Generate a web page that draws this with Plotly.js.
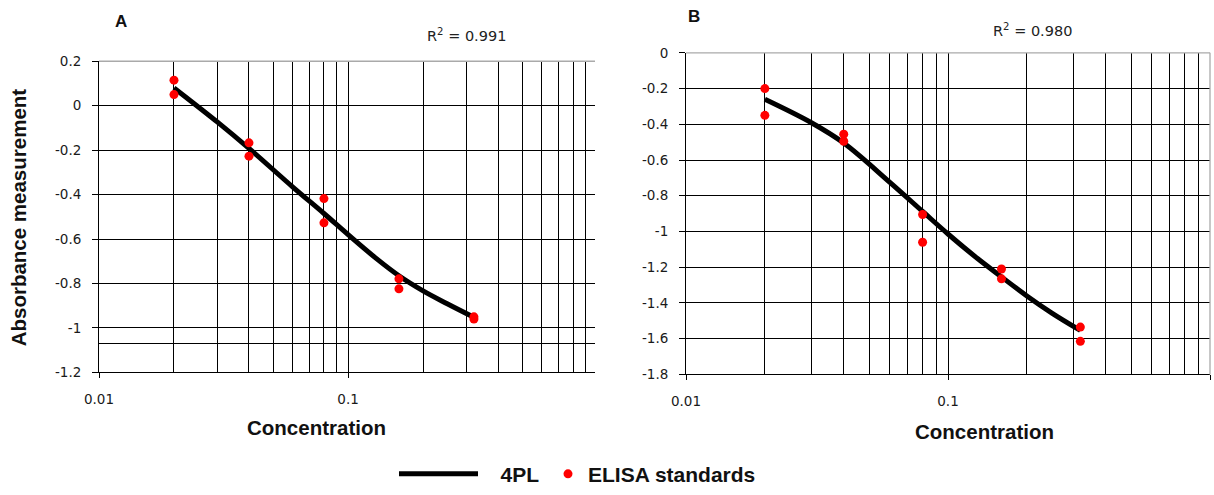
<!DOCTYPE html>
<html>
<head>
<meta charset="utf-8">
<script src="https://cdn.plot.ly/plotly-3.0.1.min.js"></script>
<style>html,body{margin:0;padding:0;background:#fff;}#chart{width:1214px;height:495px;}</style>
</head>
<body>
<div id="chart"></div>
<script>
// ---- data ----
var concA = [0.02, 0.02, 0.04, 0.04, 0.08, 0.08, 0.16, 0.16, 0.32, 0.32];
var absA  = [0.115, 0.05, -0.167, -0.227, -0.418, -0.527, -0.779, -0.824, -0.95, -0.96];
var fitXA = [0.02, 0.03, 0.04, 0.06, 0.08, 0.1, 0.13, 0.16, 0.2, 0.25, 0.32];
var fitYA = [0.08, -0.075, -0.192, -0.366, -0.485, -0.58, -0.688, -0.765, -0.833, -0.891, -0.952];

var concB = [0.02, 0.02, 0.04, 0.04, 0.08, 0.08, 0.16, 0.16, 0.32, 0.32];
var absB  = [-0.2, -0.35, -0.455, -0.495, -0.905, -1.06, -1.21, -1.265, -1.535, -1.615];
var fitXB = [0.02, 0.03, 0.04, 0.06, 0.08, 0.1, 0.13, 0.16, 0.2, 0.25, 0.32];
var fitYB = [-0.26, -0.39, -0.505, -0.725, -0.888, -1.014, -1.153, -1.254, -1.361, -1.458, -1.554];

var xMajorVals = [0.01, 0.1, 1];
var xMajorText = ['0.01', '0.1', '1'];
var xMinorVals = [0.02, 0.03, 0.04, 0.05, 0.06, 0.07, 0.08, 0.09, 0.2, 0.3, 0.4, 0.5, 0.6, 0.7, 0.8, 0.9];

var yValsA = [0.2, 0, -0.2, -0.4, -0.6, -0.8, -1, -1.2];
var yTextA = ['0.2', '0', '-0.2', '-0.4', '-0.6', '-0.8', '-1', '-1.2'];
var yExtraA = [-1.07];
var yValsB = [0, -0.2, -0.4, -0.6, -0.8, -1, -1.2, -1.4, -1.6, -1.8];
var yTextB = ['0', '-0.2', '-0.4', '-0.6', '-0.8', '-1', '-1.2', '-1.4', '-1.6', '-1.8'];

var r2A = '0.991';
var r2B = '0.980';
var lineName = '\u00a0\u00a0\u00a04PL';
var pointName = 'ELISA standards';

// ---- styles ----
var tickFont = {family: 'DejaVu Sans', size: 13.5, color: '#1a1a1a'};
var titleFont = {family: 'Liberation Sans', size: 20.5, color: '#111'};
var GRID = '#000';
var GW = 1;

function xAxis(domain, range, anchor) {
  return {
    type: 'log', domain: domain, range: range, anchor: anchor,
    tickmode: 'array', tickvals: xMajorVals, ticktext: xMajorText,
    showgrid: true, gridcolor: GRID, gridwidth: GW,
    showline: true, linecolor: GRID, linewidth: GW,
    ticks: 'outside', ticklen: 5, tickcolor: GRID, tickwidth: GW,
    ticklabelstandoff: 9, tickfont: tickFont,
    minor: {tickmode: 'array', tickvals: xMinorVals, showgrid: true, gridcolor: GRID, gridwidth: GW, ticks: ''},
    zeroline: false, fixedrange: true
  };
}
function yAxis(domain, range, anchor, vals, text, extra) {
  var ax = {
    domain: domain, range: range, anchor: anchor,
    tickmode: 'array', tickvals: vals, ticktext: text,
    showgrid: true, gridcolor: GRID, gridwidth: GW,
    showline: true, linecolor: GRID, linewidth: GW,
    ticks: 'outside', ticklen: 6, tickcolor: GRID, tickwidth: GW,
    ticklabelstandoff: 8, tickfont: tickFont,
    zeroline: false, fixedrange: true
  };
  if (extra) ax.minor = {tickmode: 'array', tickvals: extra, showgrid: true, gridcolor: GRID, gridwidth: GW, ticks: ''};
  return ax;
}

var traces = [
  {x: fitXA, y: fitYA, xaxis: 'x', yaxis: 'y', mode: 'lines', line: {color: '#000', width: 5, shape: 'spline', smoothing: 1}, name: lineName, legend: 'legend', showlegend: true},
  {x: concA, y: absA, xaxis: 'x', yaxis: 'y', mode: 'markers', marker: {color: '#ff0000', size: 9}, name: pointName, legend: 'legend2', showlegend: true},
  {x: fitXB, y: fitYB, xaxis: 'x2', yaxis: 'y2', mode: 'lines', line: {color: '#000', width: 5, shape: 'spline', smoothing: 1}, name: lineName, showlegend: false},
  {x: concB, y: absB, xaxis: 'x2', yaxis: 'y2', mode: 'markers', marker: {color: '#ff0000', size: 9}, name: pointName, showlegend: false}
];

function px(x) { return x / 1214; }
function py(y) { return 1 - y / 495; }
function ann(text, x, y, font, extra) {
  var a = {text: text, xref: 'paper', yref: 'paper', x: px(x), y: py(y), xanchor: 'center', yanchor: 'middle', showarrow: false, font: font};
  if (extra) for (var k in extra) a[k] = extra[k];
  return a;
}

var legendFont = {family: 'Liberation Sans', size: 21, color: '#111', weight: 'bold'};

var layout = {
  width: 1214, height: 495,
  margin: {l: 0, r: 0, t: 0, b: 0},
  paper_bgcolor: '#fff', plot_bgcolor: '#fff',
  font: {family: 'DejaVu Sans', color: '#222'},
  xaxis: xAxis([px(99), px(595)], [-2, Math.log10(0.98)], 'y'),
  yaxis: yAxis([py(377), py(62)], [-1.2, 0.2], 'x', yValsA, yTextA, yExtraA),
  xaxis2: xAxis([px(686), px(1210)], [-2, 0], 'y2'),
  yaxis2: yAxis([py(379), py(53.5)], [-1.8, 0], 'x2', yValsB, yTextB, null),
  legend: {orientation: 'h', x: px(394), xanchor: 'left', y: py(480), yanchor: 'middle', itemwidth: 79,
           font: legendFont, bgcolor: 'rgba(0,0,0,0)'},
  legend2: {orientation: 'h', x: px(548), xanchor: 'left', y: py(480), yanchor: 'middle', itemwidth: 30,
           font: legendFont, bgcolor: 'rgba(0,0,0,0)'},
  shapes: [
    {type: 'line', xref: 'x domain', yref: 'y domain', x0: 0, x1: 1, y0: 1, y1: 1, line: {color: '#aaa', width: 1.3}, layer: 'above'},
    {type: 'line', xref: 'x2 domain', yref: 'y2 domain', x0: 0, x1: 1, y0: 1, y1: 1, line: {color: '#aaa', width: 1.3}, layer: 'above'},
    {type: 'line', xref: 'x2 domain', yref: 'y2 domain', x0: 1, x1: 1, y0: 0, y1: 1, line: {color: '#aaa', width: 1.3}, layer: 'above'}
  ],
  annotations: [
    ann('<b>A</b>', 121, 22, {family: 'Liberation Sans', size: 17, color: '#111'}),
    ann('<b>B</b>', 694, 17, {family: 'Liberation Sans', size: 17, color: '#111'}),
    ann('R<sup>2</sup> = ' + r2A, 466, 35, {family: 'DejaVu Sans', size: 14.5, color: '#222'}),
    ann('R<sup>2</sup> = ' + r2B, 1032, 30, {family: 'DejaVu Sans', size: 14.5, color: '#222'}),
    ann('<b>Absorbance measurement</b>', 18, 220, titleFont, {textangle: -90}),
    ann('<b>Concentration</b>', 317, 433, titleFont),
    ann('<b>Concentration</b>', 984, 437, titleFont)
  ]
};

Plotly.newPlot('chart', traces, layout, {staticPlot: true, displayModeBar: false});
</script>
</body>
</html>
